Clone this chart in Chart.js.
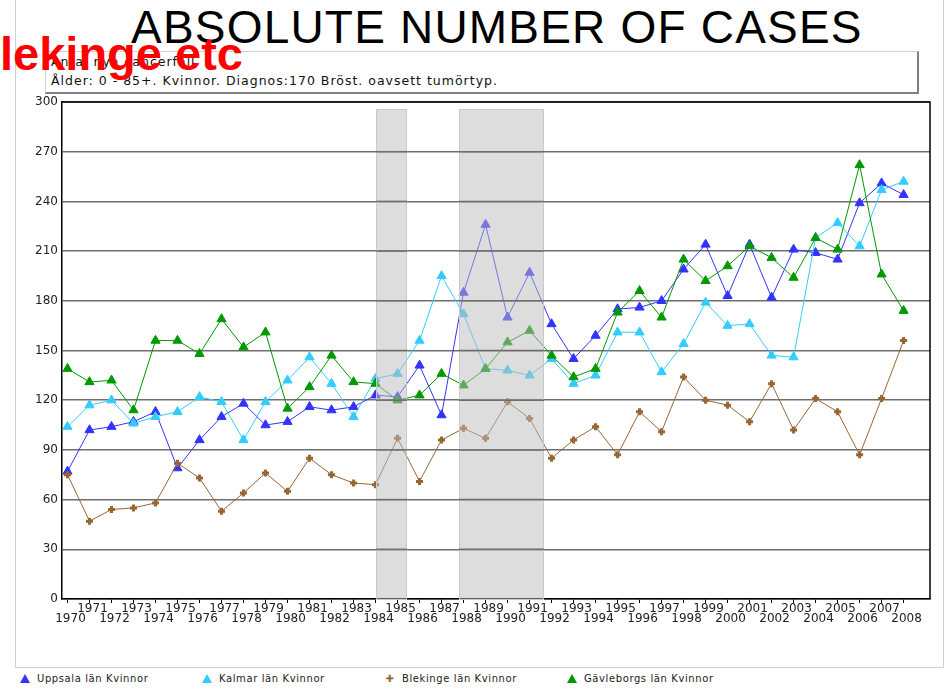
<!DOCTYPE html>
<html>
<head>
<meta charset="utf-8">
<script src="https://cdn.jsdelivr.net/npm/chart.js@4.4.1/dist/chart.umd.min.js"></script>
<style>
  body { margin: 0; width: 951px; height: 689px; background: #fff; position: relative; overflow: hidden;
         font-family: 'DejaVu Sans', Verdana, sans-serif; }
  .frame { position: absolute; left: 15px; top: -2px; width: 927px; height: 668px; border: 1px solid #cfcfcf; }
  .title { position: absolute; left: 131px; top: 4px; font: 46px/1 'Liberation Sans', Arial, sans-serif;
           letter-spacing: 1.2px; color: #000; white-space: nowrap; }
  .info { position: absolute; left: 45px; top: 51px; width: 871px; height: 40px; background: #fff;
          border-top: 1px solid #d6d3ce; border-left: 1px solid #d6d3ce;
          border-right: 2px solid #808080; border-bottom: 2px solid #808080; }
  .info div { position: absolute; left: 5px; font-size: 12.5px; line-height: 14px; color: #111; white-space: nowrap; letter-spacing: 1px; }
  .stamp { position: absolute; left: 0; top: 30px; font: bold 47px/1 'Liberation Sans', Arial, sans-serif;
           color: #ff0000; white-space: nowrap; }
  .wrap { position: absolute; left: 0; top: 90px; width: 951px; height: 545px; }
  .legend { position: absolute; top: 672px; height: 14px; font-size: 10px; line-height: 14px; color: #222;
            white-space: nowrap; letter-spacing: 0.6px; }
  .tri { display: inline-block; width: 0; height: 0; border-left: 5px solid transparent; border-right: 5px solid transparent;
         border-bottom: 9px solid; margin-right: 7px; vertical-align: -1px; }
  .plus { display: inline-block; width: 10px; margin-right: 7px; font-size: 10px; text-align: center; }
</style>
</head>
<body>
<div class="frame"></div>
<div class="title">ABSOLUTE NUMBER OF CASES</div>
<div class="info">
  <div style="top:3px">Antal nya cancerfall</div>
  <div style="top:22px">Ålder: 0 - 85+. Kvinnor. Diagnos:170 Bröst. oavsett tumörtyp.</div>
</div>
<div class="stamp">lekinge etc</div>
<div class="wrap"><canvas id="cases-chart"></canvas></div>
<div id="legend"></div>

<script>
/* ── DATA ── */
const years = [1970, 1971, 1972, 1973, 1974, 1975, 1976, 1977, 1978, 1979,
               1980, 1981, 1982, 1983, 1984, 1985, 1986, 1987, 1988, 1989,
               1990, 1991, 1992, 1993, 1994, 1995, 1996, 1997, 1998, 1999,
               2000, 2001, 2002, 2003, 2004, 2005, 2006, 2007, 2008];

const uppsala   = [77, 102, 104, 107, 113, 79, 96, 110, 118, 105,
                   107, 116, 114, 116, 123, 122, 141, 111, 185, 226,
                   170, 197, 166, 145, 159, 175, 176, 180, 199, 214,
                   183, 214, 182, 211, 209, 205, 239, 251, 244];
const kalmar    = [104, 117, 120, 106, 110, 113, 122, 119, 96, 119,
                   132, 146, 130, 110, 133, 136, 156, 195, 172, 139,
                   138, 135, 145, 130, 135, 161, 161, 137, 154, 179,
                   165, 166, 147, 146, 218, 227, 213, 247, 252];
const blekinge  = [75, 47, 54, 55, 58, 82, 73, 53, 64, 76,
                   65, 85, 75, 70, 69, 97, 71, 96, 103, 97,
                   119, 109, 85, 96, 104, 87, 113, 101, 134, 120,
                   117, 107, 130, 102, 121, 113, 87, 121, 156];
const gavleborg = [139, 131, 132, 114, 156, 156, 148, 169, 152, 161,
                   115, 128, 147, 131, 130, 120, 123, 136, 129, 139,
                   155, 162, 147, 134, 139, 173, 186, 170, 205, 192,
                   201, 213, 206, 194, 218, 211, 262, 196, 174];

const seriesNames = ['Uppsala län Kvinnor', 'Kalmar län Kvinnor', 'Blekinge län Kvinnor', 'Gävleborgs län Kvinnor'];
const seriesData  = [uppsala, kalmar, blekinge, gavleborg];

// shaded periods (in years) and their upper value
const bandStart = [1984, 1987.8];
const bandEnd   = [1985.4, 1991.6];
const bandTop   = 296;

const yTicksMax = 300;
const yStep     = 30;

/* ── THEME ── */
const C = {
  uppsala:  '#3333ff',
  kalmar:   '#33ccff',
  blekinge: '#996633',
  gavle:    '#009900',
  text:     '#222222',
  grid:     '#6e6e6e',
};
const FONT = "'DejaVu Sans', Verdana, sans-serif";
const colors  = [C.uppsala, C.kalmar, C.blekinge, C.gavle];
const markers = ['triangle', 'triangle', 'cross', 'triangle'];

/* ── PLUGINS ── */
const bandPlugin = {
  id: 'bands',
  afterDatasetsDraw(chart) {
    const { ctx, chartArea, scales: { x, y } } = chart;
    ctx.save();
    bandStart.forEach((s, i) => {
      const x0 = Math.round(x.getPixelForValue(s));
      const x1 = Math.round(x.getPixelForValue(bandEnd[i]));
      const y0 = Math.round(y.getPixelForValue(bandTop));
      const y1 = Math.round(chartArea.bottom);
      ctx.fillStyle = 'rgba(187,187,187,0.5)';
      ctx.fillRect(x0, y0, x1 - x0, y1 - y0);
      ctx.strokeStyle = '#c9c9c9';
      ctx.lineWidth = 1;
      ctx.strokeRect(x0 + 0.5, y0 + 0.5, x1 - x0, y1 - y0);
      // grid lines stay visible over the bands
      ctx.strokeStyle = C.grid;
      ctx.lineWidth = 1.5;
      y.ticks.forEach(t => {
        if (t.value <= 0 || t.value >= yTicksMax) return;
        const py = y.getPixelForValue(t.value);
        ctx.beginPath();
        ctx.moveTo(x0, py);
        ctx.lineTo(x1 + 1, py);
        ctx.stroke();
      });
    });
    ctx.restore();
  },
  afterDraw(chart) {
    const { ctx, chartArea } = chart;
    ctx.save();
    ctx.strokeStyle = '#000';
    ctx.lineWidth = 1.5;
    ctx.beginPath();
    ctx.moveTo(chartArea.left, chartArea.top);
    ctx.lineTo(chartArea.right, chartArea.top);
    ctx.lineTo(chartArea.right, chartArea.bottom);
    ctx.stroke();
    ctx.restore();
  },
};

/* ── CHART ── */
function initCasesChart() {
  const ctx = document.getElementById('cases-chart');

  const datasets = seriesData.map((vals, i) => ({
    label: seriesNames[i],
    data: vals.map((v, j) => ({ x: years[j], y: v })),
    borderColor: colors[i],
    backgroundColor: colors[i],
    borderWidth: 1,
    pointStyle: markers[i],
    pointRadius: markers[i] === 'cross' ? 3.5 : 5.3,
    pointBorderWidth: markers[i] === 'cross' ? 3 : 1,
    pointBorderColor: colors[i],
    pointBackgroundColor: colors[i],
    tension: 0,
    order: seriesData.length - 1 - i,
  }));

  new Chart(ctx, {
    type: 'line',
    data: { datasets },
    plugins: [bandPlugin],
    options: {
      responsive: true,
      maintainAspectRatio: false,
      animation: false,
      layout: { padding: { top: 12, right: 21, left: 0, bottom: 0 } },
      plugins: { legend: { display: false }, tooltip: { enabled: false } },
      scales: {
        x: {
          type: 'linear',
          min: 1969.75,
          max: 2009.2,
          afterBuildTicks: axis => { axis.ticks = years.map(v => ({ value: v })); },
          afterFit: axis => { axis.height = 36; },
          grid: { drawOnChartArea: false, drawTicks: true, tickLength: 4, tickColor: '#000', tickWidth: 1 },
          border: { color: '#000', width: 1.5 },
          ticks: {
            autoSkip: false, maxRotation: 0, minRotation: 0, padding: 0, labelOffset: 3,
            color: C.text, font: { family: FONT, size: 12, lineHeight: 0.9 },
            callback: v => (v % 2 === 0 ? ['', String(v)] : [String(v), '']),
          },
        },
        y: {
          min: 0,
          max: yTicksMax,
          afterFit: axis => { axis.width = 62; },
          grid: { color: C.grid, lineWidth: 1.5, drawTicks: false },
          border: { color: '#000', width: 1.5 },
          ticks: { stepSize: yStep, padding: 4, color: C.text, font: { family: FONT, size: 12 } },
        },
      },
    },
  });
}

/* ── LEGEND ── */
function buildLegend() {
  const host = document.getElementById('legend');
  const lefts = [20, 202, 385, 567];
  seriesNames.forEach((name, i) => {
    const item = document.createElement('div');
    item.className = 'legend';
    item.style.left = lefts[i] + 'px';
    const mark = document.createElement('span');
    if (markers[i] === 'cross') {
      mark.className = 'plus';
      mark.textContent = '✚';
      mark.style.color = colors[i];
    } else {
      mark.className = 'tri';
      mark.style.borderBottomColor = colors[i];
    }
    item.appendChild(mark);
    item.appendChild(document.createTextNode(name));
    host.appendChild(item);
  });
}

initCasesChart();
buildLegend();
</script>
</body>
</html>
